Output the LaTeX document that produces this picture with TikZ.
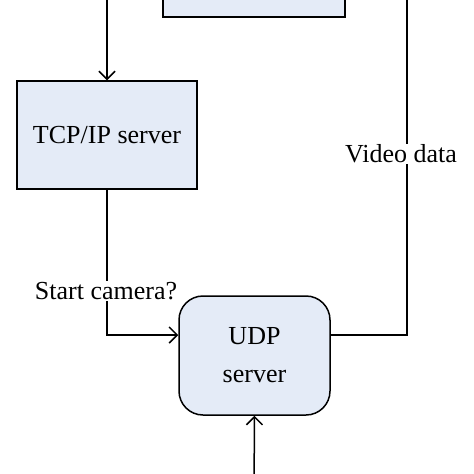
\documentclass[tikz,border=0pt]{standalone}
\usepackage{fontspec}
\setmainfont{Liberation Serif}
\usetikzlibrary{arrows.meta}

\definecolor{boxfill}{RGB}{228,235,247}

\tikzset{
  block/.style={draw, fill=boxfill, line width=1.5pt, inner sep=0pt},
  tag/.style={fill=white, inner sep=1pt},
  link/.style={line width=1.5pt, -{Straight Barb[length=8pt,width=16pt]}},
  wire/.style={line width=1.5pt}
}

\begin{document}
\begin{tikzpicture}[x=1pt, y=-1pt, font=\fontsize{26}{38}\selectfont]
      % frame of the picture
      \useasboundingbox (0,0) rectangle (474,474);
      \clip (0,0) rectangle (474,474);

      % boxes
      \node (cam) [block, minimum width=182pt, minimum height=80pt] at (254,-23) {};
      \node (tcp) [block, minimum width=180pt, minimum height=108pt] at (107,135) {TCP/IP server};
      \node (udp) [block, rounded corners=24pt, align=center,
                   minimum width=151pt, minimum height=119pt] at (254.5,355.5) {UDP\\server};

      % free ends of the lines
      \coordinate (in)   at (107,-10);
      \coordinate (bend) at (107,335);
      \coordinate (out)  at (407,335);
      \coordinate (vtop) at (407,-10);
      \coordinate (bot)  at (254,490);

      % connectors
      \draw [link] (in) -- (tcp.north);
      \draw [link] (tcp.south) -- (bend) -- (udp.west |- bend);
      \draw [wire] (udp.east |- out) -- (out) -- (vtop);
      \draw [link] (bot) -- (udp.south);

      % labels
      \node (start) [tag] at (106,291) {Start camera?};
      \node (video) [tag] at (401,154) {Video data};
\end{tikzpicture}
\end{document}
